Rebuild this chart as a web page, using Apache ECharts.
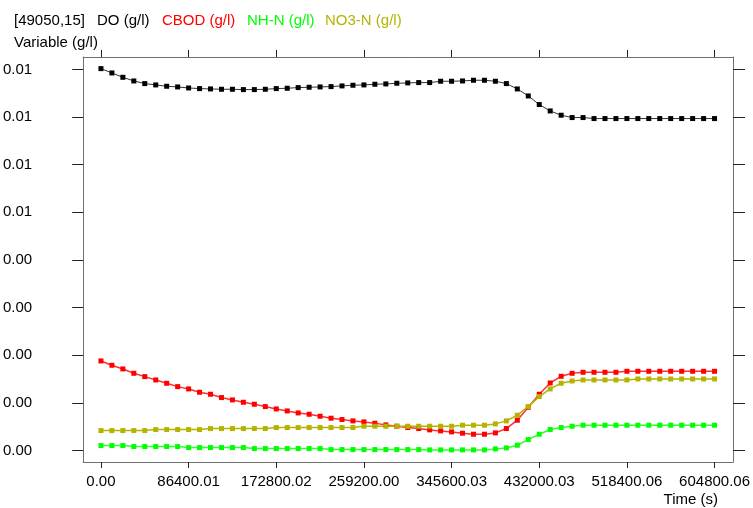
<!DOCTYPE html>
<html>
<head>
<meta charset="utf-8">
<script src="https://cdn.jsdelivr.net/npm/echarts@6/dist/echarts.min.js"></script>
<style>
html,body{margin:0;padding:0;background:#fff;}
#c{width:753px;height:508px;}
</style>
</head>
<body>
<div id="c"></div>
<script>
// ---- data ----
var times = [0, 10800, 21600, 32400, 43200, 54000, 64800, 75600, 86400, 97200,
  108000, 118800, 129600, 140400, 151200, 162000, 172800, 183600, 194400, 205200,
  216000, 226800, 237600, 248400, 259200, 270000, 280800, 291600, 302400, 313200,
  324000, 334800, 345600, 356400, 367200, 378000, 388800, 399600, 410400, 421200,
  432000, 442800, 453600, 464400, 475200, 486000, 496800, 507600, 518400, 529200,
  540000, 550800, 561600, 572400, 583200, 594000, 604800];

var doVals = [0.008016, 0.007925, 0.007834, 0.007757, 0.007702, 0.007674, 0.007646, 0.007632, 0.007610, 0.007597,
  0.007590, 0.007583, 0.007583, 0.007576, 0.007576, 0.007583, 0.007597, 0.007604, 0.007618, 0.007625,
  0.007632, 0.007639, 0.007653, 0.007667, 0.007674, 0.007688, 0.007695, 0.007709, 0.007716, 0.007723,
  0.007723, 0.007751, 0.007751, 0.007757, 0.007772, 0.007772, 0.007751, 0.007702, 0.007590, 0.007443,
  0.007262, 0.007128, 0.007038, 0.006989, 0.006989, 0.006968, 0.006968, 0.006968, 0.006968, 0.006968,
  0.006968, 0.006968, 0.006968, 0.006968, 0.006968, 0.006968, 0.006968];

var cbodVals = [0.001881, 0.001790, 0.001713, 0.001622, 0.001552, 0.001482, 0.001412, 0.001342, 0.001294, 0.001224,
  0.001182, 0.001112, 0.001063, 0.001014, 0.000972, 0.000923, 0.000874, 0.000832, 0.000790, 0.000762,
  0.000721, 0.000679, 0.000651, 0.000623, 0.000602, 0.000574, 0.000539, 0.000511, 0.000483, 0.000462,
  0.000434, 0.000413, 0.000392, 0.000364, 0.000343, 0.000343, 0.000371, 0.000462, 0.000637, 0.000909,
  0.001182, 0.001419, 0.001559, 0.001622, 0.001643, 0.001643, 0.001643, 0.001643, 0.001664, 0.001664,
  0.001664, 0.001664, 0.001664, 0.001664, 0.001664, 0.001664, 0.001664];

var nhnVals = [0.000105, 0.000105, 0.000105, 0.000084, 0.000084, 0.000084, 0.000084, 0.000084, 0.000063, 0.000063,
  0.000063, 0.000063, 0.000063, 0.000063, 0.000042, 0.000042, 0.000042, 0.000042, 0.000042, 0.000042,
  0.000042, 0.000021, 0.000021, 0.000021, 0.000021, 0.000021, 0.000021, 0.000021, 0.000021, 0.000021,
  0.000014, 0.000014, 0.000014, 0.000014, 0.000014, 0.000014, 0.000035, 0.000056, 0.000112, 0.000231,
  0.000343, 0.000441, 0.000483, 0.000511, 0.000532, 0.000532, 0.000532, 0.000532, 0.000532, 0.000532,
  0.000532, 0.000532, 0.000532, 0.000532, 0.000532, 0.000532, 0.000532];

var no3Vals = [0.000420, 0.000420, 0.000420, 0.000420, 0.000420, 0.000441, 0.000441, 0.000441, 0.000441, 0.000441,
  0.000462, 0.000462, 0.000462, 0.000462, 0.000462, 0.000462, 0.000483, 0.000483, 0.000483, 0.000483,
  0.000483, 0.000483, 0.000483, 0.000483, 0.000511, 0.000511, 0.000511, 0.000511, 0.000511, 0.000511,
  0.000511, 0.000511, 0.000511, 0.000532, 0.000532, 0.000532, 0.000560, 0.000623, 0.000742, 0.000923,
  0.001133, 0.001294, 0.001412, 0.001461, 0.001482, 0.001482, 0.001482, 0.001482, 0.001482, 0.001503,
  0.001503, 0.001503, 0.001503, 0.001503, 0.001503, 0.001503, 0.001503];

var seriesNames = ['DO (g/l)', 'CBOD (g/l)', 'NH-N (g/l)', 'NO3-N (g/l)'];
var locationLabel = '[49050,15]';
var yAxisTitle = 'Variable (g/l)';
var xAxisTitle = 'Time (s)';

var xTickValues = [0, 86400.01, 172800.02, 259200.00, 345600.03, 432000.03, 518400.06, 604800.06];
var xTickLabels = ['0.00', '86400.01', '172800.02', '259200.00', '345600.03', '432000.03', '518400.06', '604800.06'];
var yTickValues = [0, 0.001, 0.002, 0.003, 0.004, 0.005, 0.006, 0.007, 0.008];
var yTickLabels = ['0.00', '0.00', '0.00', '0.00', '0.00', '0.01', '0.01', '0.01', '0.01'];

// ---- styles ----
var seriesColors = ['#000000', '#ff0000', '#00ff00', '#b4b400'];
var lineColors = ['#333333', '#ff3030', '#30ff30', '#b4b400'];
var FONT = '"Liberation Sans", Arial, sans-serif';

function pair(xs, ys) { return xs.map(function (x, i) { return [x, ys[i]]; }); }
function labelFor(vals, labels, v) {
  for (var i = 0; i < vals.length; i++) { if (Math.abs(vals[i] - v) < 1e-6 * Math.max(1, Math.abs(vals[i]))) return labels[i]; }
  return '';
}

var XMIN = -17500, XMAX = 623000, YMIN = -0.00024, YMAX = 0.00826;
var axisCol = '#707070', tickCol = '#222222';

var chart = echarts.init(document.getElementById('c'), null, { renderer: 'canvas' });
var allVals = [doVals, cbodVals, nhnVals, no3Vals];

var titleX = [14, 97, 162, 247, 325];
var graphic = [{
  type: 'text', left: titleX[0], top: 13,
  style: { text: locationLabel, fill: '#000', font: '15px ' + FONT }
}];
seriesNames.forEach(function (n, i) {
  graphic.push({ type: 'text', left: titleX[i + 1], top: 13,
    style: { text: n, fill: seriesColors[i], font: '15px ' + FONT } });
});
graphic.push({ type: 'text', left: 14, top: 35, style: { text: yAxisTitle, fill: '#000', font: '15px ' + FONT } });
graphic.push({ type: 'text', right: 753 - 718, top: 492, style: { text: xAxisTitle, fill: '#000', font: '15px ' + FONT } });

chart.setOption({
  animation: false,
  backgroundColor: '#ffffff',
  grid: { left: 83, right: 18, top: 57, bottom: 46, containLabel: false },
  graphic: graphic,
  xAxis: [{
    type: 'value', position: 'bottom', min: XMIN, max: XMAX,
    axisLine: { show: true, onZero: false, lineStyle: { color: axisCol, width: 1 } },
    axisTick: { show: true, inside: false, length: 6, customValues: xTickValues, lineStyle: { color: tickCol } },
    axisLabel: { show: true, customValues: xTickValues, margin: 12, color: '#000', fontSize: 15, fontFamily: FONT,
      formatter: function (v) { return labelFor(xTickValues, xTickLabels, v); } },
    splitLine: { show: false }
  }, {
    type: 'value', position: 'top', min: XMIN, max: XMAX,
    axisLine: { show: true, onZero: false, lineStyle: { color: axisCol, width: 1 } },
    axisTick: { show: true, inside: false, length: 7, customValues: xTickValues, lineStyle: { color: tickCol } },
    axisLabel: { show: false },
    splitLine: { show: false }
  }],
  yAxis: [{
    type: 'value', position: 'left', min: YMIN, max: YMAX,
    axisLine: { show: true, onZero: false, lineStyle: { color: axisCol, width: 1 } },
    axisTick: { show: true, inside: false, length: 11, customValues: yTickValues, lineStyle: { color: tickCol } },
    axisLabel: { show: true, customValues: yTickValues, margin: 51, color: '#000', fontSize: 15, fontFamily: FONT,
      formatter: function (v) { return labelFor(yTickValues, yTickLabels, v); } },
    splitLine: { show: false }
  }, {
    type: 'value', position: 'right', min: YMIN, max: YMAX,
    axisLine: { show: true, onZero: false, lineStyle: { color: axisCol, width: 1 } },
    axisTick: { show: true, inside: false, length: 12, customValues: yTickValues, lineStyle: { color: tickCol } },
    axisLabel: { show: false },
    splitLine: { show: false }
  }],
  series: seriesNames.map(function (n, i) {
    return {
      name: n, type: 'line', xAxisIndex: 0, yAxisIndex: 0,
      data: pair(times, allVals[i]),
      symbol: 'rect', symbolSize: 5, showSymbol: true,
      itemStyle: { color: seriesColors[i] },
      lineStyle: { color: lineColors[i], width: i === 0 ? 1 : 1.5 },
      emphasis: { disabled: true }
    };
  })
});
</script>
</body>
</html>
